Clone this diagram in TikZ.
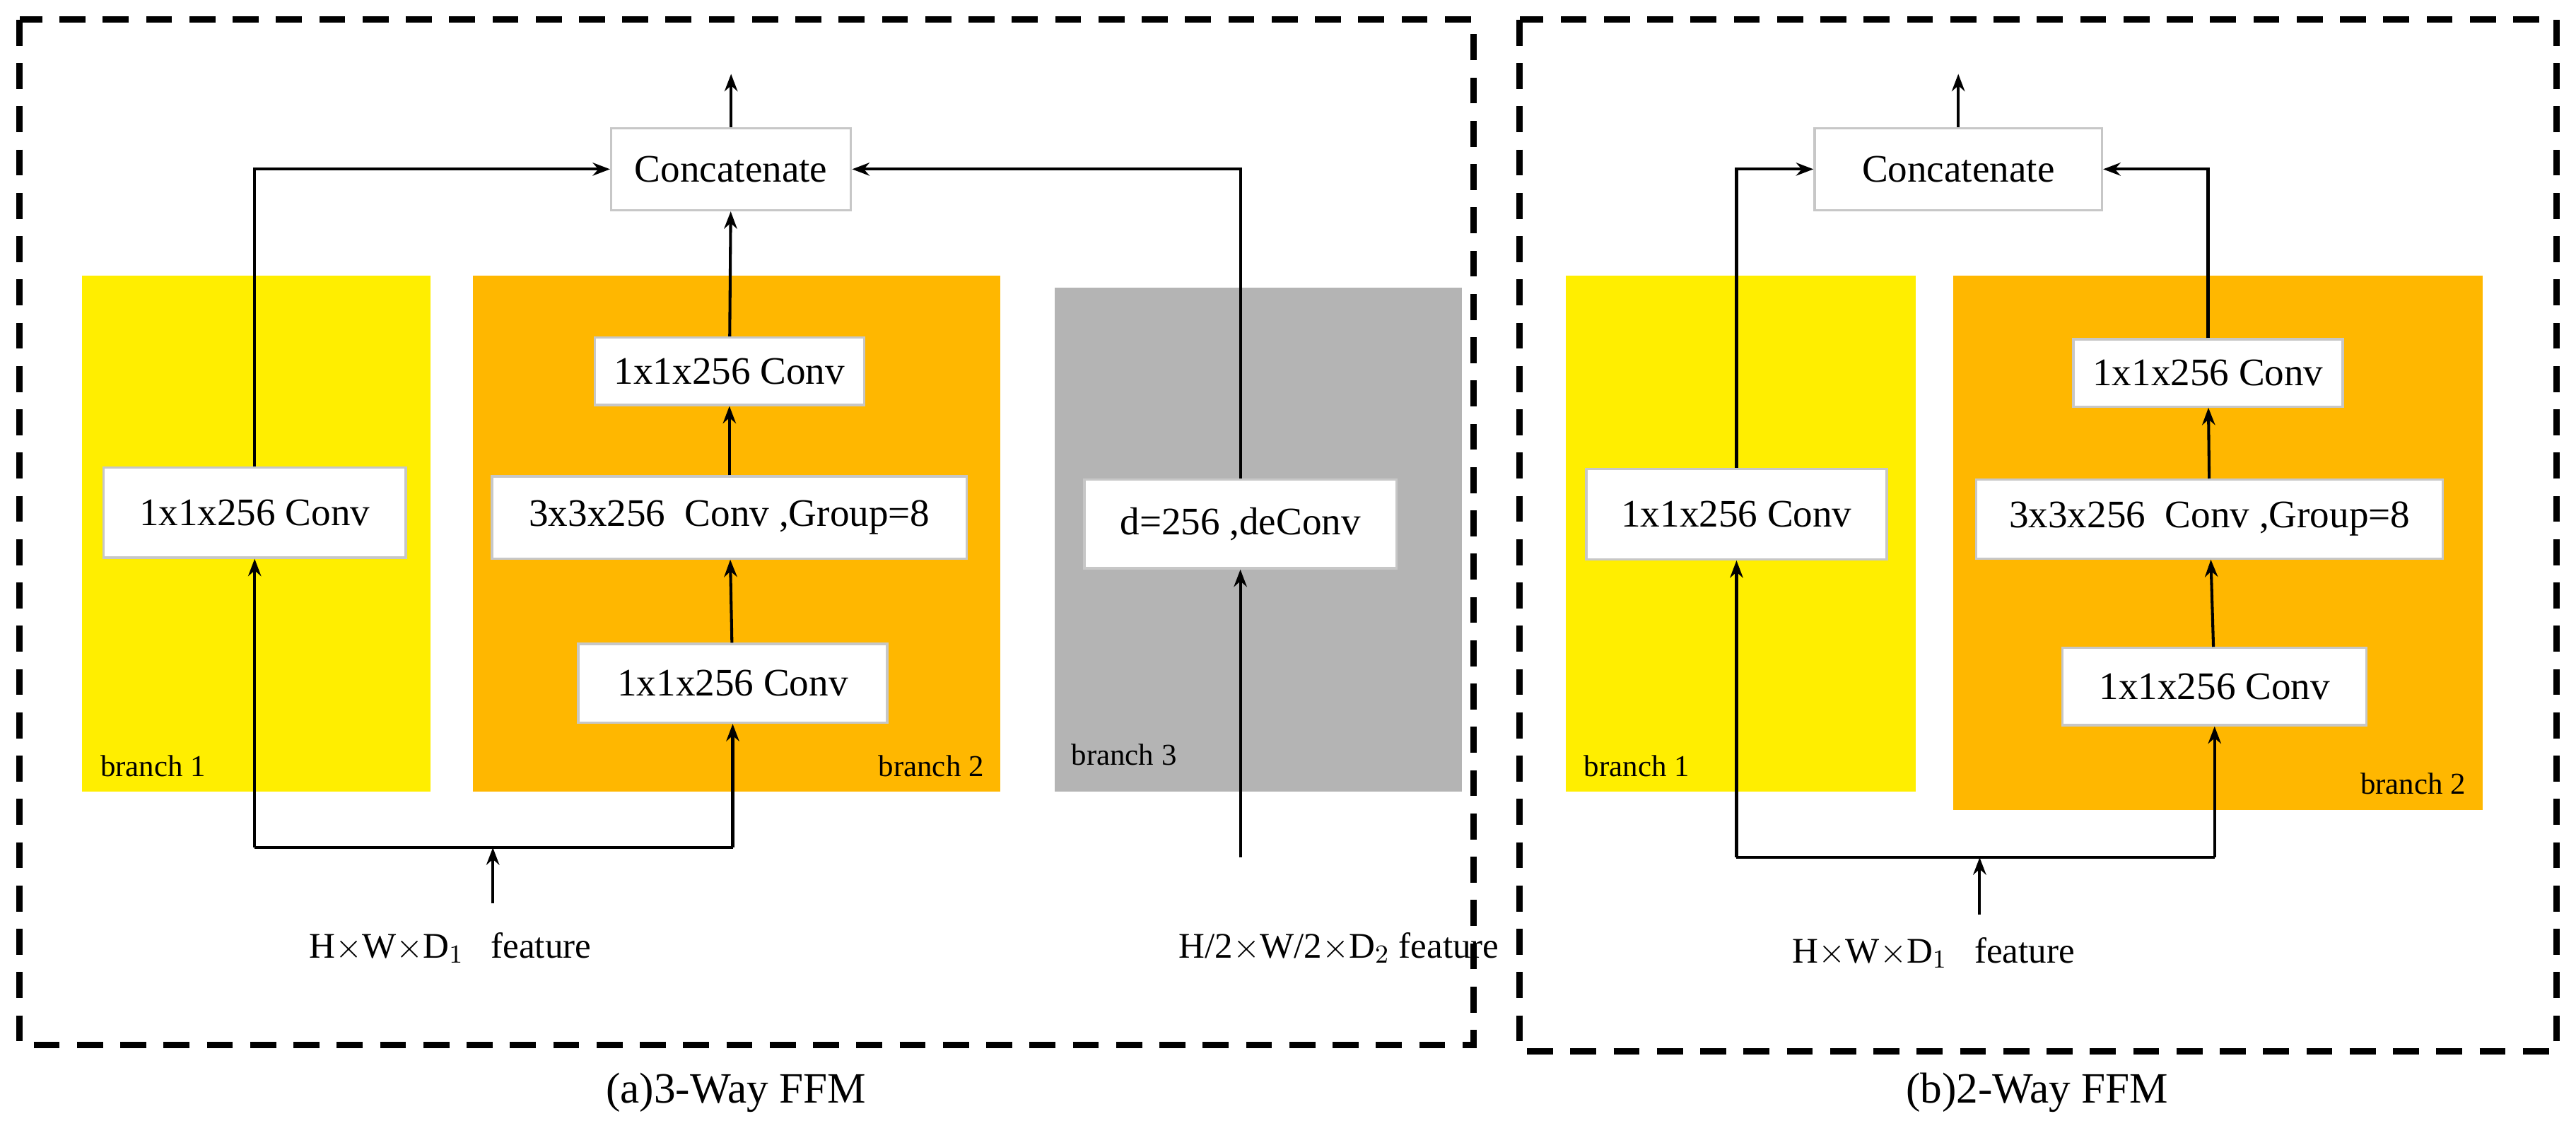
\documentclass[tikz,border=0pt]{standalone}
\usepackage{fontspec}
\setmainfont{Liberation Serif}
\usetikzlibrary{arrows.meta}
\definecolor{ylw}{RGB}{255,238,0}
\definecolor{org}{RGB}{255,183,0}
\definecolor{gry}{RGB}{180,180,180}
\begin{document}
\begin{tikzpicture}[x=0.02cm,y=-0.02cm,
  conv/.style={draw=black!22,fill=white,line width=0.8pt,font=\fontsize{13.5}{16}\selectfont,inner sep=0pt},
  lbl/.style={font=\fontsize{10.5}{12}\selectfont},
  txt/.style={font=\fontsize{12.5}{15}\selectfont},
  captxt/.style={font=\fontsize{15}{18}\selectfont},
  arr/.style={-{Stealth[length=6pt,width=4.5pt]},line width=1pt},
  ln/.style={line width=1pt},
  dbox/.style={line width=2.2pt,dash pattern=on 9pt off 6pt}]
\useasboundingbox (0,0) rectangle (1568,697);
\fill[white] (0,0) rectangle (1568,697);
% left
\draw[dbox] (12,12) rectangle (897,636);
\fill[ylw] (50,168) rectangle (262,482);
\fill[org] (288,168) rectangle (609,482);
\fill[gry] (642,175) rectangle (890,482);
\node[lbl,anchor=south west] (b1) at (55,479) {branch 1};
\node[lbl,anchor=south east] (b2) at (605,479) {branch 2};
\node[lbl,anchor=south west] (b3) at (646,472) {branch 3};
\node[conv,minimum width=2.92cm,minimum height=1.0cm] (cat) at (445,103) {Concatenate};
\coordinate (o1) at (445,45);
\draw[arr] (cat.north) -- (o1);
\node[conv,minimum width=3.68cm,minimum height=1.1cm] (c1) at (155,312) {1x1x256 Conv};
\node[conv,minimum width=3.28cm,minimum height=0.82cm] (t2) at (444,226) {1x1x256 Conv};
\node[conv,minimum width=5.78cm,minimum height=1.0cm] (g2) at (444,315) {3x3x256\ \ Conv ,Group=8};
\node[conv,minimum width=3.76cm,minimum height=0.96cm] (u2) at (446,416) {1x1x256 Conv};
\node[conv,minimum width=3.8cm,minimum height=1.08cm] (d3) at (755,319) {d=256 ,deConv};
\draw[arr] (c1.north) |- (cat.west);
\draw[arr] (d3.north) |- (cat.east);
\draw[arr] (u2) -- (g2);
\draw[arr] (g2) -- (t2);
\draw[arr] (t2) -- (cat);
\node[txt] (f1) at (274,577) {H$\times$W$\times$D$_1$\ \ \ feature};
\node[txt] (f2) at (815,577) {H/2$\times$W/2$\times$D$_2$\ feature};
\coordinate (j1) at (300,516);
\draw[arr] (300,550) -- (j1);
\draw[ln] (155,516) -- (446,516);
\draw[arr] (155,516) -- (c1.south);
\draw[arr] (446,516) -- (u2.south);
\draw[arr] (755,522) -- (d3.south);
\node[captxt] (capa) at (448,665) {(a)3-Way FFM};
% right
\draw[dbox] (925,12) rectangle (1556,640);
\fill[ylw] (953,168) rectangle (1166,482);
\fill[org] (1189,168) rectangle (1511,493);
\node[lbl,anchor=south west] (rb1) at (958,479) {branch 1};
\node[lbl,anchor=south east] (rb2) at (1507,490) {branch 2};
\node[conv,minimum width=3.5cm,minimum height=1.0cm] (rcat) at (1192,103) {Concatenate};
\coordinate (o2) at (1192,45);
\draw[arr] (rcat.north) -- (o2);
\node[conv,minimum width=3.66cm,minimum height=1.1cm] (rc1) at (1057,313) {1x1x256 Conv};
\node[conv,minimum width=3.28cm,minimum height=0.82cm] (rt2) at (1344,227) {1x1x256 Conv};
\node[conv,minimum width=5.68cm,minimum height=0.96cm] (rg2) at (1345,316) {3x3x256\ \ Conv ,Group=8};
\node[conv,minimum width=3.7cm,minimum height=0.94cm] (ru2) at (1348,418) {1x1x256 Conv};
\draw[arr] (rc1.north) |- (rcat.west);
\draw[arr] (rt2.north) |- (rcat.east);
\draw[arr] (ru2) -- (rg2);
\draw[arr] (rg2) -- (rt2);
\node[txt] (rf1) at (1177,580) {H$\times$W$\times$D$_1$\ \ \ feature};
\draw[arr] (1205,557) -- (1205,522);
\draw[ln] (1057,522) -- (1348,522);
\draw[arr] (1057,522) -- (rc1.south);
\draw[arr] (1348,522) -- (ru2.south);
\node[captxt] (capb) at (1240,665) {(b)2-Way FFM};
\end{tikzpicture}
\end{document}
